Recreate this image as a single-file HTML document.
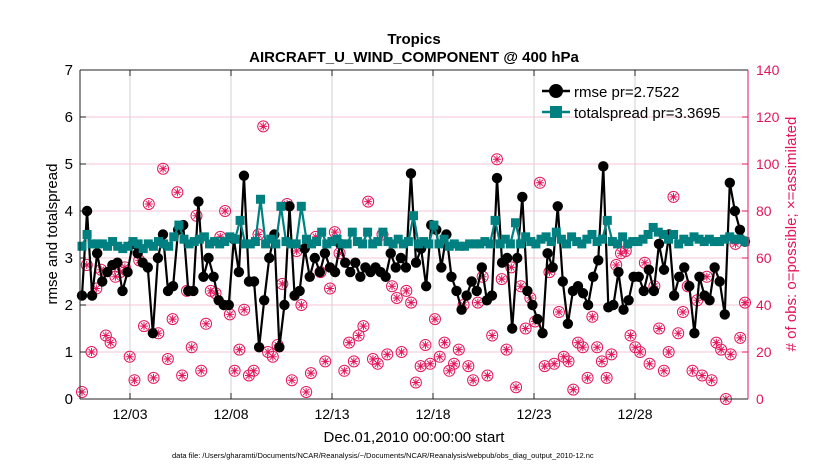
<!DOCTYPE html>
<html><head><meta charset="utf-8"><style>
body{margin:0;background:#fff;font-family:"Liberation Sans",Arial,sans-serif}
svg text{font-family:"Liberation Sans",Arial,sans-serif}
</style></head><body>
<svg id="chart" width="830" height="470" viewBox="0 0 830 470" xmlns="http://www.w3.org/2000/svg">
<rect width="830" height="470" fill="#fff"/>
<g id="grid"></g><g id="series"></g><g id="axes"></g>
<text x="414" y="44" text-anchor="middle" font-size="15" font-weight="bold">Tropics</text>
<text x="414" y="62" text-anchor="middle" font-size="15" font-weight="bold">AIRCRAFT_U_WIND_COMPONENT @ 400 hPa</text>
<text transform="translate(57,234) rotate(-90)" text-anchor="middle" font-size="15">rmse and totalspread</text>
<text transform="translate(796,234) rotate(-90)" text-anchor="middle" font-size="15" fill="#e3165b"># of obs: o=possible; ×=assimilated</text>
<text x="414" y="442" text-anchor="middle" font-size="15">Dec.01,2010 00:00:00 start</text>
<text x="172" y="458" font-size="7.5">data file: /Users/gharamti/Documents/NCAR/Reanalysis/~/Documents/NCAR/Reanalysis/webpub/obs_diag_output_2010-12.nc</text>
<g>
<line x1="542" y1="91" x2="570" y2="91" stroke="#000" stroke-width="2.5"/><circle cx="556" cy="91" r="7" fill="#000"/>
<text x="574" y="97" font-size="15">rmse pr=2.7522</text>
<line x1="542" y1="112" x2="570" y2="112" stroke="#008080" stroke-width="2.5"/><rect x="550" y="106" width="12" height="12" fill="#008080"/>
<text x="574" y="118" font-size="15">totalspread pr=3.3695</text>
</g>
</svg>
<script>
const rmse=[2.2,4.0,2.2,3.1,2.5,2.7,2.85,2.9,2.3,2.7,3.3,3.1,2.9,2.8,1.4,3.0,3.5,2.3,2.4,3.6,3.7,2.3,2.3,4.2,2.6,3.0,2.6,2.1,2.0,2.0,3.4,2.7,4.75,2.5,2.5,1.1,2.1,3.0,3.5,1.1,2.0,4.1,2.2,2.3,3.2,2.6,3.0,2.7,3.1,2.8,2.7,3.3,2.9,2.7,2.9,2.6,2.8,2.7,2.8,2.7,2.6,3.1,2.8,3.0,2.8,4.8,2.9,3.2,2.4,3.7,3.6,2.8,3.5,2.6,2.3,1.9,2.2,2.5,2.3,2.8,2.1,2.2,4.7,2.9,3.0,1.5,3.0,4.3,2.3,2.0,1.7,1.4,3.1,2.8,4.1,2.5,1.6,2.3,2.4,2.25,2.0,2.6,2.95,4.95,1.95,2.0,2.7,1.9,2.1,2.6,2.6,2.3,2.75,2.3,3.3,2.75,3.5,2.2,2.6,2.8,2.4,1.4,2.6,2.2,2.1,2.8,2.5,1.8,4.6,4.0,3.6,3.35];
const spread=[3.25,3.5,3.3,3.3,3.3,3.25,3.35,3.25,3.2,3.25,3.35,3.3,3.2,3.3,3.25,3.35,3.3,3.25,3.45,3.7,3.4,3.3,3.35,3.4,3.45,3.3,3.35,3.3,3.35,3.45,3.4,3.8,3.3,3.3,3.35,4.25,3.3,3.4,3.3,4.1,3.35,3.3,3.3,4.1,3.4,3.3,3.35,3.55,3.3,3.35,3.4,3.3,3.3,3.55,3.35,3.3,3.55,3.3,3.35,3.55,3.35,3.3,3.4,3.3,3.35,3.9,3.3,3.35,3.3,3.7,3.3,3.4,3.25,3.3,3.25,3.25,3.3,3.3,3.3,3.35,3.3,3.8,3.3,3.4,3.3,3.75,3.3,3.45,3.35,3.3,3.4,3.45,3.35,3.55,3.4,3.3,3.45,3.35,3.3,3.4,3.5,3.35,3.4,3.8,3.35,3.3,3.45,3.3,3.35,3.35,3.4,3.5,3.65,3.55,3.5,3.4,3.5,3.3,3.4,3.35,3.45,3.4,3.35,3.4,3.35,3.35,3.4,3.45,3.4,3.4,3.35];
const obs=[3,57,20,47,55,27,24,52,54,56,18,8,59,31,83,9,28,98,17,34,88,10,46,22,78,12,32,46,45,69,80,36,12,21,38,10,12,70,116,20,18,23,49,83,8,63,40,3,11,69,54,16,47,71,62,12,24,16,27,31,84,17,15,70,19,48,43,20,46,41,7,14,23,15,34,18,24,12,15,21,40,14,8,41,52,10,27,102,51,21,56,5,48,30,43,33,92,14,54,15,37,18,16,4,24,22,9,35,22,16,9,19,57,62,63,27,22,20,58,15,48,30,12,20,86,28,37,48,12,42,10,52,8,24,21,0,19,66,26,41];
const dayTicks=[3,8,13,18,23,28];
const dayLabels=['12/03','12/08','12/13','12/18','12/23','12/28'];
const yTicks=[0,1,2,3,4,5,6,7];
const y2Ticks=[0,20,40,60,80,100,120,140];
const L=80,R=748,T=70,B=399;
const xDay=d=>130+(d-3)*20.2;
const xIdx=(i,n)=>82+i*(663/(n-1));
const yL=v=>B-(v/7)*(B-T);
const yR=v=>B-(v/140)*(B-T);
const NS='http://www.w3.org/2000/svg';
function mk(t,a,p){const e=document.createElementNS(NS,t);for(const k in a)e.setAttribute(k,a[k]);p.appendChild(e);return e;}
const grid=document.getElementById('grid'),ser=document.getElementById('series'),ax=document.getElementById('axes');
dayTicks.forEach((d,i)=>{const x=xDay(d);
 const g=mk('line',{x1:x,y1:T,x2:x,y2:B,stroke:'#d0d0d0','stroke-width':1},grid);
 
 
 mk('line',{x1:x,y1:B,x2:x,y2:B-6,stroke:'#222'},ax);
 mk('line',{x1:x,y1:T,x2:x,y2:T+6,stroke:'#222'},ax);
 const t=mk('text',{x:x,y:B+20,'text-anchor':'middle','font-size':14},ax);t.textContent=dayLabels[i];
 
 
});
y2Ticks.forEach(v=>{const y=yR(v);
 if(v>0&&v<140){const g=mk('line',{x1:L,y1:y,x2:R,y2:y,stroke:'#f3c6d6','stroke-width':1},grid);
 
 }
 mk('line',{x1:R,y1:y,x2:R-6,y2:y,stroke:'#e3165b'},ax);
 const t=mk('text',{x:R+8,y:y+5,'font-size':14,fill:'#e3165b'},ax);t.textContent=v;
 
 
});
yTicks.forEach(v=>{const y=yL(v);
 mk('line',{x1:L,y1:y,x2:L+6,y2:y,stroke:'#222'},ax);
 const t=mk('text',{x:L-7,y:y+5,'text-anchor':'end','font-size':15},ax);t.textContent=v;
 
 
});
mk('line',{x1:L,y1:T,x2:R,y2:T,stroke:'#222'},ax);
mk('line',{x1:L,y1:B,x2:R,y2:B,stroke:'#222'},ax);
mk('line',{x1:L,y1:T,x2:L,y2:B,stroke:'#222'},ax);
mk('line',{x1:R,y1:T,x2:R,y2:B,stroke:'#e3165b'},ax);
obs.forEach((v,i)=>{const x=xIdx(i,obs.length),y=yR(v);
 const g=mk('g',{stroke:'#e3165b','stroke-width':1,fill:'none'},ser);
 
 
 mk('circle',{cx:x,cy:y,r:5.5},g);
 mk('path',{d:`M${x-4} ${y}H${x+4}M${x} ${y-4}V${y+4}M${x-3} ${y-3}L${x+3} ${y+3}M${x-3} ${y+3}L${x+3} ${y-3}`},g);
});
const rp=rmse.map((v,i)=>xIdx(i,rmse.length)+','+yL(v)).join(' ');
const rl=mk('polyline',{points:rp,fill:'none',stroke:'#000','stroke-width':2.2},ser);


rmse.forEach((v,i)=>{const c=mk('circle',{cx:xIdx(i,rmse.length),cy:yL(v),r:5.2,fill:'#000'},ser);
 
 });
const sp=spread.map((v,i)=>xIdx(i,spread.length)+','+yL(v)).join(' ');
const sl=mk('polyline',{points:sp,fill:'none',stroke:'#008080','stroke-width':2.2},ser);


spread.forEach((v,i)=>{const r=mk('rect',{x:xIdx(i,spread.length)-4.5,y:yL(v)-4.5,width:9,height:9,fill:'#008080'},ser);
 
 });
</script>
</body></html>
